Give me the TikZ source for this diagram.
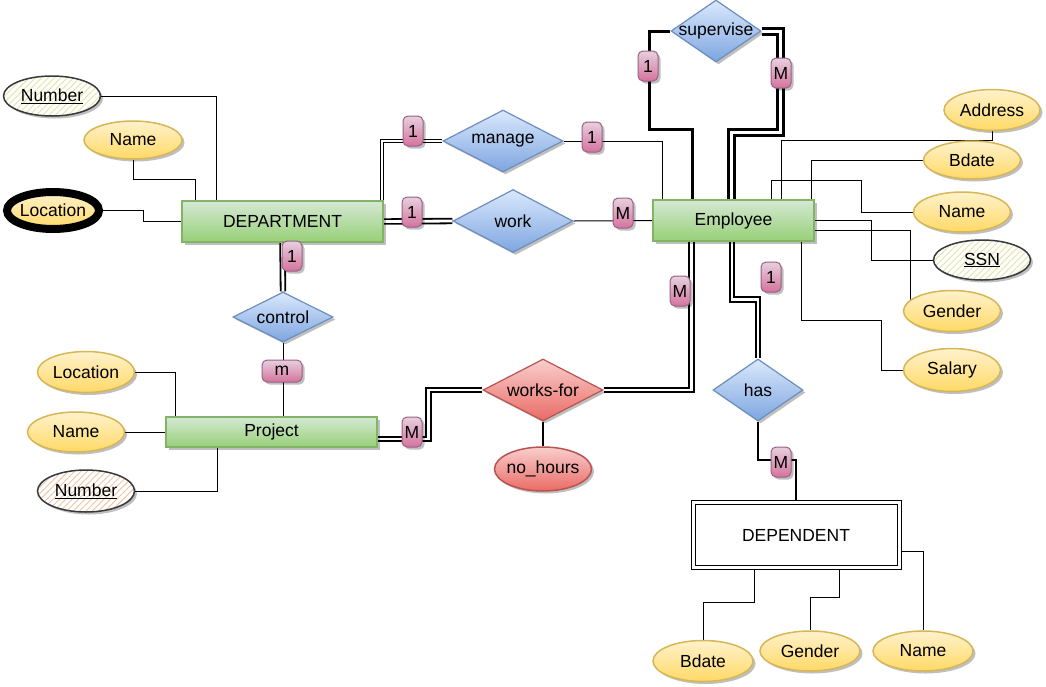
\documentclass[tikz,border=0pt]{standalone}
\usepackage{fontspec}
\setmainfont{Liberation Sans}
\usetikzlibrary{shapes.geometric,shadows,patterns.meta}
\definecolor{gtop}{HTML}{D5E8D4}\definecolor{gbot}{HTML}{97D077}\definecolor{gstroke}{HTML}{82B366}
\definecolor{btop}{HTML}{DAE8FC}\definecolor{bbot}{HTML}{7EA6E0}\definecolor{bstroke}{HTML}{6C8EBF}
\definecolor{rtop}{HTML}{F8CECC}\definecolor{rbot}{HTML}{EA6B66}\definecolor{rstroke}{HTML}{B85450}
\definecolor{ytop}{HTML}{FFF2CC}\definecolor{ybot}{HTML}{FFD966}\definecolor{ystroke}{HTML}{D6B656}
\definecolor{ptop}{HTML}{E6D0DE}\definecolor{pbot}{HTML}{D5739D}\definecolor{pstroke}{HTML}{996185}
\definecolor{kstroke}{HTML}{36393D}\definecolor{hatchY}{HTML}{E4E4A8}\definecolor{hatchP}{HTML}{EEC6A4}
\newcommand\zw[1]{\makebox[0pt]{#1}}
\pgfdeclarelayer{bg}
\pgfsetlayers{bg,main}
\begin{document}
\begin{tikzpicture}[x=1pt,y=-1pt,
  every node/.style={font=\fontsize{17.5}{21}\selectfont, text=black},
  shd/.style={drop shadow={shadow xshift=2.5pt,shadow yshift=-2.5pt,fill=black,opacity=0.25}},
  ent/.style={rectangle, draw=gstroke, line width=1.2pt, top color=gtop, bottom color=gbot, inner sep=0, shd},
  rel/.style={diamond, draw=bstroke, line width=1.2pt, top color=btop, bottom color=bbot, inner sep=0, shd},
  relred/.style={diamond, draw=rstroke, line width=1.2pt, top color=rtop, bottom color=rbot, inner sep=0, shd},
  att/.style={ellipse, draw=ystroke, line width=1.5pt, top color=ytop, bottom color=ybot, inner sep=0, minimum width=97pt, minimum height=40pt, shd},
  keyatt/.style={ellipse, draw=kstroke, line width=1.5pt, inner sep=0, minimum width=97pt, minimum height=40pt, shd, preaction={fill=white}, pattern={Lines[angle=45,distance=4.5pt,line width=0.9pt]}},
  card/.style={rectangle, rounded corners=5pt, draw=pstroke, line width=1pt, top color=ptop, bottom color=pbot, inner sep=0, minimum width=20pt, minimum height=30pt, shd},
  ln/.style={draw=black, line width=1pt},
  dblthin/.style={draw=black, line width=0.9pt, double=white, double distance=2.4pt},
  dblmed/.style={draw=black, line width=1.8pt, double=white, double distance=2.8pt},
  thk/.style={draw=black, line width=3pt},
  dblthk/.style={draw=black, line width=3pt, double=white, double distance=3pt},
]
\useasboundingbox (0,0) rectangle (1046,686);

% entities
\node[ent, minimum width=201pt, minimum height=41pt] (dept) at (282.5,221.5) {DEPARTMENT};
\node[ent, minimum width=161pt, minimum height=41pt] (emp) at (733.5,220.5) {Employee};
\node[ent, minimum width=211pt, minimum height=30pt] (proj) at (271.5,432) {Project};
\node[rectangle, draw=black, line width=1pt, double=white, double distance=3pt, fill=white, minimum width=206pt, minimum height=65pt, inner sep=0, shd] (dep) at (796,535) {DEPENDENT};

% relationships
\node[rel, minimum width=90pt, minimum height=62pt] (sup) at (716,31) {\zw{supervise}};
\node[rel, minimum width=120pt, minimum height=62pt] (manage) at (503,141) {\zw{manage}};
\node[rel, minimum width=120pt, minimum height=63pt] (work) at (513,221) {\zw{work}};
\node[rel, minimum width=100pt, minimum height=50pt] (ctrl) at (283,317) {\zw{control}};
\node[relred, minimum width=120pt, minimum height=62pt] (wf) at (543,390) {\zw{works-for}};
\node[rel, minimum width=90pt, minimum height=62pt] (has) at (758,390) {\zw{has}};

% attributes
\node[keyatt, pattern color=hatchY, minimum width=97pt, minimum height=40pt] (dnum) at (52,96) {\zw{\underline{Number}}};
\node[att, minimum width=98pt, minimum height=38pt] (dname) at (133,140) {\zw{Name}};
\node[att, draw=black, line width=8pt, minimum width=92pt, minimum height=37pt] (dloc) at (53,210.5) {\zw{Location}};
\node[att, minimum height=41pt] (ploc) at (86,372) {\zw{Location}};
\node[att] (pname) at (76,432) {\zw{Name}};
\node[keyatt, pattern color=hatchP, minimum height=42pt] (pnum) at (86,491) {\zw{\underline{Number}}};
\node[att, draw=rstroke, top color=rtop, bottom color=rbot, minimum height=44pt] (hours) at (543,469) {\zw{no\_hours}};
\node[att, minimum width=96pt, minimum height=41pt] (addr) at (992,110) {\zw{Address}};
\node[att, minimum height=38pt] (ebd) at (972,160) {\zw{Bdate}};
\node[att] (ename) at (962,212) {\zw{Name}};
\node[keyatt, pattern color=hatchY] (ssn) at (982,260) {\zw{\underline{SSN}}};
\node[att, minimum height=41pt] (egen) at (952,311) {\zw{Gender}};
\node[att, minimum height=43pt] (sal) at (952,370) {\zw{Salary}};
\node[att, minimum width=100pt, minimum height=41pt] (dbd) at (703,661) {\zw{Bdate}};
\node[att, minimum width=100pt] (dgen) at (810,651) {\zw{Gender}};
\node[att, minimum width=100pt] (dnm) at (923,651) {\zw{Name}};

% connectors
\begin{pgfonlayer}{bg}
\draw[ln] (dnum.east) -| ([xshift=35pt]dept.north west);
\draw[ln] (dname.south) -- ++(0,20) -| ([xshift=14pt]dept.north west);
\draw[ln] (dloc.east) -- ++(40,0) |- (dept.west);
\draw[dblthin] ([xshift=-1.5pt]dept.north east) |- (manage.west);
\draw[ln] (manage.east) -| ([xshift=10pt]emp.north west);
\draw[dblmed] (dept.east) -- (work.west);
\draw[ln] (work.east) -- (emp.west);
\draw[thk] ([xshift=40pt]emp.north west) -- ++(0,-70) -- ++(-43,0) |- (sup.west);
\draw[dblthk] (sup.east) -- ++(19,0) -- ++(0,101) -| ([xshift=79.5pt]emp.north west);
\draw[dblmed] (wf.east) -| ([xshift=39pt]emp.south west);
\draw[dblmed] (wf.west) -- ++(-54,0) |- ([yshift=-7pt]proj.east);
\draw[ln, line width=1.5pt] (wf.south) -- (hours.north);
\draw[dblmed] ([xshift=79.5pt]emp.south west) -- ++(0,58) -| (has.north);
\draw[ln, line width=2pt] (has.south) -- ++(0,38) -| (dep.north);
\draw[dblmed] (dept.south) -- (ctrl.north);
\draw[ln] (ctrl.south) -- (ctrl.south |- proj.north);
\draw[ln] (ploc.east) -| ([xshift=10pt]proj.north west);
\draw[ln] (pname.east) -- (proj.west);
\draw[ln] (pnum.east) -| ([xshift=52pt]proj.south west);
\draw[ln] (addr.south) -- ++(0,9) -| ([xshift=129pt]emp.north west);
\draw[ln] (ebd.west) -| ([xshift=159pt]emp.north west);
\draw[ln] (ename.west) -- ++(-51,0) -- ++(0,-32) -| ([xshift=119pt]emp.north west);
\draw[ln] (ssn.west) -- ++(-61,0) |- (emp.east);
\draw[ln] ([yshift=-10pt]emp.east) -| ([xshift=-42pt]egen.center);
\draw[ln] ([xshift=149pt]emp.south west) -- ++(0,79) -| ([xshift=-21pt]sal.west) -- (sal.west);
\draw[ln] ([xshift=-42pt]dep.south) -- ++(0,34) -| (dbd.north);
\draw[ln] ([xshift=43pt]dep.south) -- ++(0,29) -| (dgen.north);
\draw[ln] ([yshift=-16pt]dep.east) -| (dnm.north);
\end{pgfonlayer}

% cardinalities
\node[card] (c1) at (413,131) {1};
\node[card] (c2) at (592,137) {1};
\node[card] (c3) at (412,212) {1};
\node[card] (c4) at (623,213) {M};
\node[card] (c5) at (648,66) {1};
\node[card] (c6) at (781,73) {M};
\node[card] (c7) at (292,256) {1};
\node[card, minimum width=40pt, minimum height=22pt] (c8) at (282,371) {m};
\node[card] (c9) at (412,432) {M};
\node[card] (c10) at (680,291) {M};
\node[card] (c11) at (771,277) {1};
\node[card] (c12) at (781,462) {M};
\end{tikzpicture}
\end{document}
